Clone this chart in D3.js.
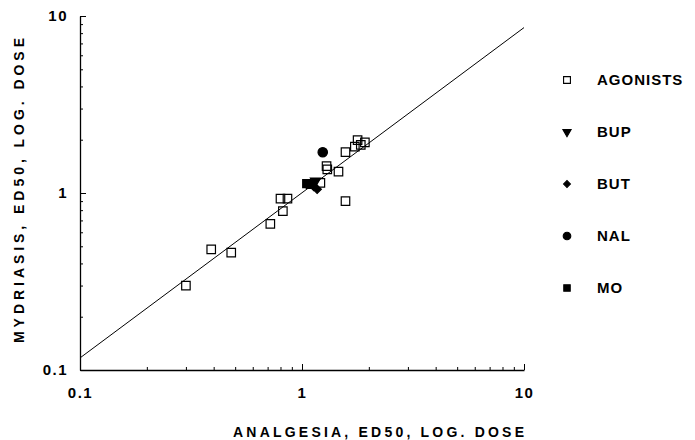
<!DOCTYPE html>
<html>
<head>
<meta charset="utf-8">
<script src="https://cdn.jsdelivr.net/npm/d3@7"></script>
<style>
  body { margin: 0; background: #fff; }
  text { font-family: "Liberation Sans", Arial, sans-serif; font-weight: bold; fill: #000; }
</style>
</head>
<body>
<div id="plot"></div>
<script>
// agonists: [analgesia ED50, mydriasis ED50]
const agonists = [
  [0.30, 0.30], [0.39, 0.48], [0.48, 0.46], [0.72, 0.67], [0.80, 0.93],
  [0.86, 0.93], [0.82, 0.79], [1.21, 1.14], [1.29, 1.42], [1.30, 1.36],
  [1.46, 1.32], [1.57, 0.90], [1.57, 1.70], [1.78, 1.99], [1.92, 1.93],
  [1.73, 1.83], [1.84, 1.87]
];
const bup = [[1.15, 1.17]];
const but = [[1.17, 1.05], [1.13, 1.09]];
const nal = [[1.24, 1.70]];
const mo = [[1.05, 1.13], [1.09, 1.12]];

// regression line ends
const fitLine = [[0.1, 0.117], [10, 8.6]];

const majorTicks = [0.1, 1, 10];
const tickLabels = ["0.1", "1", "10"];
const legendNames = ["AGONISTS", "BUP", "BUT", "NAL", "MO"];

const W = 695, H = 440;
const svg = d3.select("#plot").append("svg")
  .attr("width", W).attr("height", H);

const x = d3.scaleLog().domain([0.1, 10]).range([80, 524]);
const y = d3.scaleLog().domain([0.1, 10]).range([370, 16]);

const minorTicks = [];
[0.1, 1].forEach(d => { for (let k = 2; k <= 9; k++) minorTicks.push(+(d * k).toFixed(2)); });

const fmt = d => tickLabels[majorTicks.indexOf(d)];

// x axis
const xg = svg.append("g").attr("transform", "translate(0,370)");
xg.call(d3.axisBottom(x).tickValues(majorTicks).tickFormat(fmt).tickSize(-6).tickSizeOuter(0).tickPadding(17));
xg.append("g").call(d3.axisBottom(x).tickValues(minorTicks).tickFormat("").tickSize(-3).tickSizeOuter(0))
  .select(".domain").remove();

// y axis
const yg = svg.append("g").attr("transform", "translate(80,0)");
yg.call(d3.axisLeft(y).tickValues(majorTicks).tickFormat(fmt).tickSize(-6).tickSizeOuter(0).tickPadding(12));
yg.append("g").call(d3.axisLeft(y).tickValues(minorTicks).tickFormat("").tickSize(-3).tickSizeOuter(0))
  .select(".domain").remove();

svg.selectAll(".domain").attr("stroke", "#000").attr("stroke-width", 1.3);
svg.selectAll(".tick line").attr("stroke", "#000").attr("stroke-width", 1);
svg.selectAll(".tick text")
  .style("font-size", "15px").style("font-weight", "bold")
  .style("font-family", "'Liberation Sans', Arial, sans-serif")
  .attr("letter-spacing", 1.5);

// axis titles
svg.append("text")
  .attr("x", 233).attr("y", 437)
  .attr("textLength", 291).attr("lengthAdjust", "spacing")
  .style("font-size", "14px")
  .text("ANALGESIA,  ED50,  LOG.  DOSE");

svg.append("text")
  .attr("transform", "translate(24,343) rotate(-90)")
  .attr("textLength", 305).attr("lengthAdjust", "spacing")
  .style("font-size", "14px")
  .text("MYDRIASIS,  ED50,  LOG.  DOSE");

// fit line
const line = d3.line().x(d => x(d[0])).y(d => y(d[1]));
svg.append("path").datum(fitLine)
  .attr("d", line).attr("fill", "none").attr("stroke", "#000").attr("stroke-width", 1);

// markers (diamond = square turned 45 degrees)
const sym = {
  AGONISTS: { type: d3.symbolSquare, size: 72, fill: "none", rot: 0 },
  BUP: { type: d3.symbolTriangle, size: 45, fill: "#000", rot: 180 },
  BUT: { type: d3.symbolSquare, size: 36, fill: "#000", rot: 45 },
  NAL: { type: d3.symbolCircle, size: 70, fill: "#000", rot: 0 },
  MO: { type: d3.symbolSquare, size: 64, fill: "#000", rot: 0 }
};
const groups = [["AGONISTS", agonists], ["BUP", bup], ["BUT", but], ["NAL", nal], ["MO", mo]];

groups.forEach(([name, pts]) => {
  const s = sym[name];
  svg.append("g").selectAll("path").data(pts).enter().append("path")
    .attr("d", d3.symbol().type(s.type).size(s.size))
    .attr("transform", d => `translate(${x(d[0])},${y(d[1])}) rotate(${s.rot})`)
    .attr("fill", s.fill)
    .attr("stroke", "#000").attr("stroke-width", 1.2);
});

// legend
const legend = svg.append("g");
legendNames.forEach((name, i) => {
  const s = sym[name];
  const ly = 80 + i * 52;
  legend.append("path")
    .attr("d", d3.symbol().type(s.type).size(s.size * 0.65))
    .attr("transform", `translate(567,${ly}) rotate(${s.rot})`)
    .attr("fill", s.fill).attr("stroke", "#000").attr("stroke-width", 1.1);
  legend.append("text")
    .attr("x", 597).attr("y", ly + 5)
    .attr("letter-spacing", 1)
    .style("font-size", "15px")
    .text(name);
});
</script>
</body>
</html>
